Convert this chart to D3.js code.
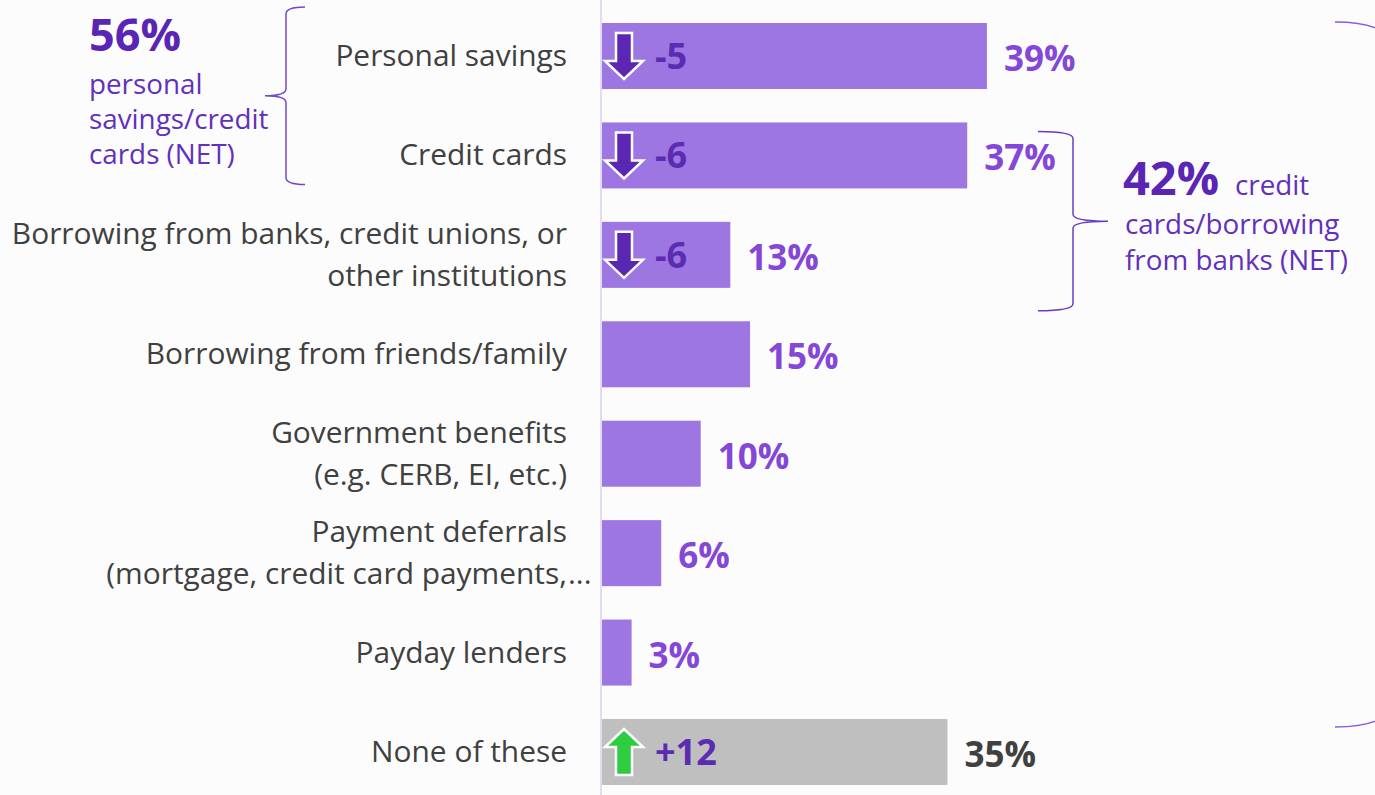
<!DOCTYPE html>
<html>
<head>
<meta charset="utf-8">
<script src="https://cdn.jsdelivr.net/npm/d3@7"></script>
<style>
body { margin: 0; background: #fcfcfc; }
text { font-family: "Open Sans", sans-serif; }
</style>
</head>
<body>
<svg id="chart"></svg>
<script>
// data
var categories = [
	"Personal savings",
	"Credit cards",
	"Borrowing from banks, credit unions, or\nother institutions",
	"Borrowing from friends/family",
	"Government benefits\n(e.g. CERB, EI, etc.)",
	"Payment deferrals\n(mortgage, credit card payments,...",
	"Payday lenders",
	"None of these"
];
var values = [39, 37, 13, 15, 10, 6, 3, 35];
var changes = [-5, -6, -6, null, null, null, null, 12];
var netLeft = ["56%", "personal", "savings/credit", "cards (NET)"];
var netRight = ["42%", "credit", "cards/borrowing", "from banks (NET)"];

var width = 1375, height = 795;
var purple = "#9d76e2", grey = "#bfbfbf", valPurple = "#8447d8", dark = "#5a25b5";

var svg = d3.select("#chart").attr("width", width).attr("height", height);

var x = d3.scaleLinear().domain([0, 100]).range([602, 1589]);
var y = d3.scaleBand().domain(categories).range([6.3, 801.7])
	.paddingInner(0.336).paddingOuter(0.168);
var bw = y.bandwidth();

var rows = categories.map(function (c, i) {
	return { cat: c, value: values[i], change: changes[i], none: i == categories.length - 1 };
});

// axis line
svg.append("line")
	.attr("x1", 601).attr("x2", 601)
	.attr("y1", 0).attr("y2", height)
	.attr("stroke", "#e2dbf6").attr("stroke-width", 2);

// bars
svg.selectAll("rect.bar")
	.data(rows)
	.enter()
	.append("rect")
	.attr("class", "bar")
	.attr("x", x(0))
	.attr("y", d => y(d.cat))
	.attr("width", d => x(d.value) - x(0))
	.attr("height", bw)
	.attr("fill", d => d.none ? grey : purple);

// value labels
svg.selectAll("text.val")
	.data(rows)
	.enter()
	.append("text")
	.attr("class", "val")
	.attr("x", d => x(d.value) + 17)
	.attr("y", d => y(d.cat) + bw / 2 + 15)
	.attr("font-size", "35px")
	.attr("font-weight", "bold")
	.attr("fill", d => d.none ? "#404040" : valPurple)
	.text(d => d.value + "%");

// category labels
var labX = 567;
rows.forEach(function (d) {
	var lines = d.cat.split("\n");
	var cy = y(d.cat) + bw / 2;
	lines.forEach(function (line, j) {
		var ly = cy + (j - (lines.length - 1) / 2) * 42 + 10;
		var dots = line.endsWith("...");
		svg.append("text")
			.attr("x", labX)
			.attr("y", ly)
			.attr("text-anchor", "end")
			.attr("font-size", "29.9px")
			.attr("fill", "#404040")
			.text(dots ? line.slice(0, -3) : line);
		if (dots) {
			svg.append("text")
				.attr("x", labX + 1)
				.attr("y", ly)
				.attr("font-size", "29.9px")
				.attr("fill", "#404040")
				.text("...");
		}
	});
});

// change arrows
var downArrow = [[-8, -23], [8, -23], [8, 5], [19, 5], [0, 23], [-19, 5], [-8, 5]];
var upArrow = downArrow.map(p => [p[0], -p[1]]);
var chg = rows.filter(d => d.change != null);

svg.selectAll("path.arrow")
	.data(chg)
	.enter()
	.append("path")
	.attr("class", "arrow")
	.attr("d", d => d3.line()(d.change < 0 ? downArrow : upArrow) + "Z")
	.attr("transform", d => "translate(624," + (y(d.cat) + bw / 2) + ")")
	.attr("fill", d => d.change < 0 ? "#5b26b2" : "#2ecc40")
	.attr("stroke", "white")
	.attr("stroke-width", 2.5);

svg.selectAll("text.chg")
	.data(chg)
	.enter()
	.append("text")
	.attr("class", "chg")
	.attr("x", 655)
	.attr("y", d => y(d.cat) + bw / 2 + 13)
	.attr("font-size", "36px")
	.attr("font-weight", "bold")
	.attr("fill", "#5b2bb2")
	.text(d => d.change > 0 ? "+" + d.change : "" + d.change);

// braces
function brace(xv, top, bot, tipX, hookX) {
	var mid = (top + bot) / 2, r = 7;
	return "M" + hookX + "," + top +
		" Q" + xv + "," + top + " " + xv + "," + (top + r) +
		" L" + xv + "," + (mid - r) +
		" Q" + xv + "," + mid + " " + tipX + "," + mid +
		" Q" + xv + "," + mid + " " + xv + "," + (mid + r) +
		" L" + xv + "," + (bot - r) +
		" Q" + xv + "," + bot + " " + hookX + "," + bot;
}

svg.append("path")
	.attr("d", brace(286, y(categories[0]) - 16, y(categories[1]) + bw - 4, 265, 305))
	.attr("fill", "none").attr("stroke", "#7447c9").attr("stroke-width", 1.5);

svg.append("path")
	.attr("d", brace(1073, y(categories[1]) + 9, y(categories[2]) + bw + 23, 1108, 1038))
	.attr("fill", "none").attr("stroke", "#6a3cc4").attr("stroke-width", 1.5);

// big brace on the right edge (cut off)
var bTop = y(categories[0]) - 1, bBot = y(categories[7]) + 8;
svg.append("path")
	.attr("d", "M1335," + bTop + " Q1365," + bTop + " 1380," + (bTop + 8))
	.attr("fill", "none").attr("stroke", "#8a5ce0").attr("stroke-width", 1.5);
svg.append("path")
	.attr("d", "M1335," + bBot + " Q1365," + bBot + " 1380," + (bBot - 8))
	.attr("fill", "none").attr("stroke", "#8a5ce0").attr("stroke-width", 1.5);

// NET annotations (one text block each)
var left = svg.append("text").attr("x", 89).attr("y", 51).attr("fill", "#6230bd");
left.append("tspan")
	.attr("font-size", "45px").attr("font-weight", "bold")
	.attr("fill", dark).text(netLeft[0]);
netLeft.slice(1).forEach(function (t, i) {
	left.append("tspan")
		.attr("x", 89).attr("y", 93.5 + i * 35)
		.attr("font-size", "27.8px").text(t);
});

var right = svg.append("text").attr("x", 1123).attr("y", 195).attr("fill", "#6230bd");
right.append("tspan")
	.attr("font-size", "47px").attr("font-weight", "bold")
	.attr("fill", dark).text(netRight[0]);
right.append("tspan")
	.attr("x", 1235)
	.attr("font-size", "27.8px").text(netRight[1]);
netRight.slice(2).forEach(function (t, i) {
	right.append("tspan")
		.attr("x", 1125).attr("y", 234 + i * 36)
		.attr("font-size", "27.8px").text(t);
});
</script>
</body>
</html>
